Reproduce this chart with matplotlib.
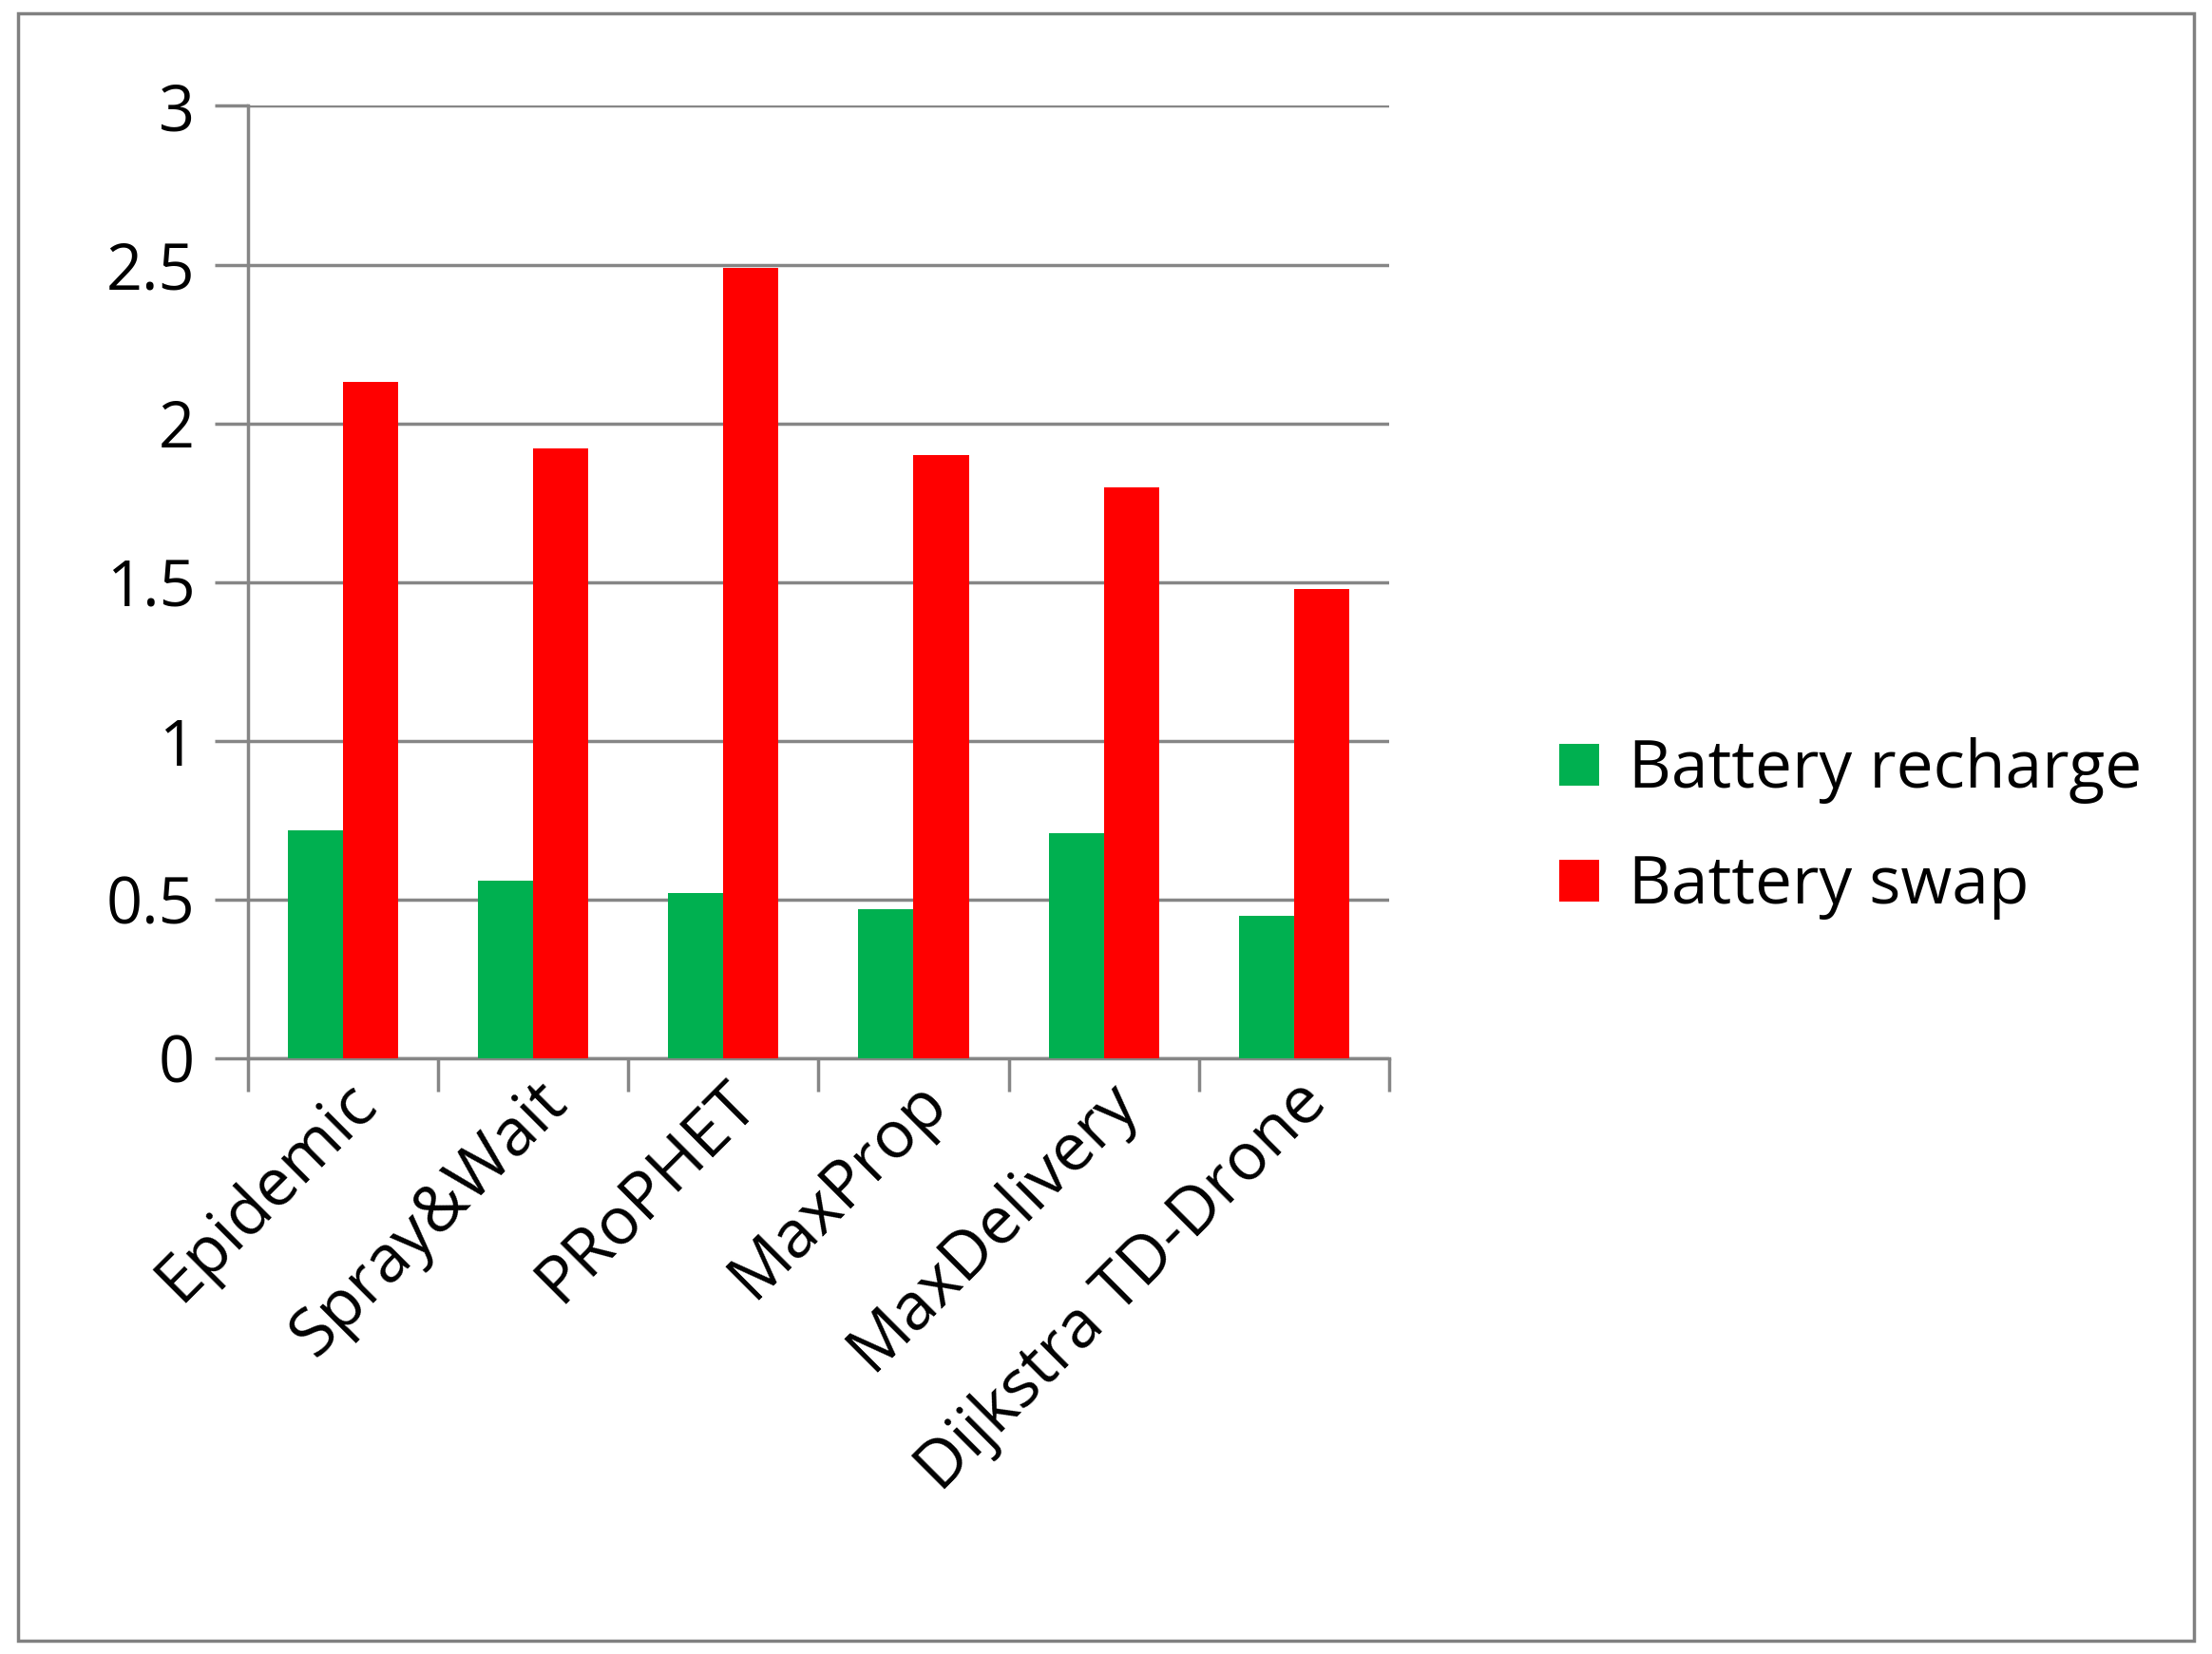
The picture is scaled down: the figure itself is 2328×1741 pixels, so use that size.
import matplotlib
matplotlib.use("Agg")
import matplotlib.pyplot as plt
import numpy as np
from matplotlib.patches import Rectangle

categories = ["Epidemic", "Spray&Wait", "PRoPHET", "MaxProp", "MaxDelivery", "Dijkstra TD-Drone"]
recharge = [0.72, 0.56, 0.52, 0.47, 0.71, 0.45]
swap = [2.13, 1.92, 2.49, 1.90, 1.80, 1.48]
yticks = [0, 0.5, 1, 1.5, 2, 2.5, 3]
ytick_labels = ["0", "0.5", "1", "1.5", "2", "2.5", "3"]

plt.rcParams['font.family'] = ['Open Sans', 'DejaVu Sans']
fig = plt.figure(figsize=(23.28, 17.41), dpi=100)
fig.patches.append(Rectangle((0.008, 0.008), 0.984, 0.984, transform=fig.transFigure,
                             fill=False, edgecolor='#808080', linewidth=2.5))
ax = fig.add_axes([0.112, 0.360, 0.516, 0.576])
x = np.arange(len(categories))
w = 0.29
ax.bar(x - w/2, recharge, w, color='#00B050', label='Battery recharge', zorder=3)
ax.bar(x + w/2, swap, w, color='#FF0000', label='Battery swap', zorder=3)
ax.set_xlim(-0.5, len(categories) - 0.5)
ax.set_ylim(0, 3)
ax.set_yticks(yticks)
ax.set_yticklabels(ytick_labels, fontsize=48)
ax.yaxis.grid(True, color='#868686', linewidth=2.5, zorder=0)
ax.set_xticks(np.arange(len(categories) + 1) - 0.5, minor=False)
ax.set_xticklabels([])
ax.set_xticks(x, minor=True)
ax.set_xticklabels(categories, minor=True, rotation=45, ha='right', rotation_mode='anchor', fontsize=50)
ax.tick_params(axis='x', which='minor', length=0, pad=8)
ax.tick_params(axis='x', which='major', length=25, width=2.5, color='#868686')
ax.tick_params(axis='y', length=25, width=2.5, color='#868686', pad=15)
for s in ['top', 'right']:
    ax.spines[s].set_visible(False)
for s in ['left', 'bottom']:
    ax.spines[s].set_color('#868686')
    ax.spines[s].set_linewidth(2.5)
fig.legend(loc='center left', bbox_to_anchor=(0.678, 0.499), frameon=False, fontsize=50,
           handlelength=0.6, handleheight=0.6, labelspacing=0.75, handletextpad=0.45)
fig.savefig("out.png", dpi=100)
